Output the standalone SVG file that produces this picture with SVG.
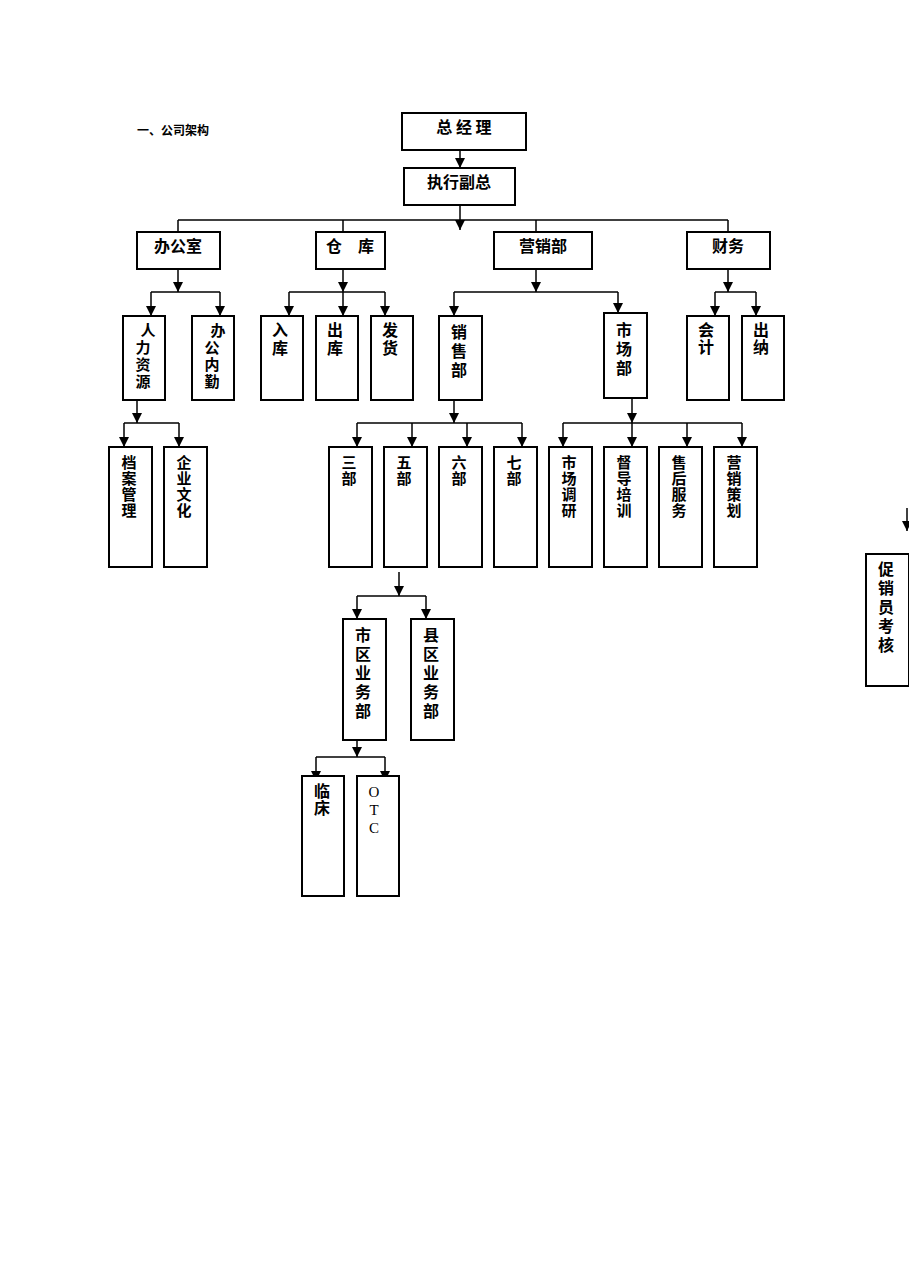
<svg xmlns="http://www.w3.org/2000/svg" width="909" height="1286" viewBox="0 0 909 1286">
<defs>
<marker id="a" markerWidth="10" markerHeight="10" refX="10" refY="5" orient="auto" markerUnits="userSpaceOnUse"><path d="M0,0 L10,5 L0,10 Z" fill="#000"/></marker>
</defs>
<style>
rect{fill:#fff;stroke:#000;stroke-width:2}
text{font-family:"Noto Sans CJK SC","Liberation Sans",sans-serif;font-size:16px;font-weight:bold;fill:#000}
.c line,.c path{stroke:#000;stroke-width:1.5;fill:none}
.v{text-anchor:middle}
.t{font-size:15px}
</style>
<rect width="909" height="1286" style="fill:#fff;stroke:none"/>
<text x="137" y="135" style="font-size:12px">一、公司架构</text>
<g id="connectors" class="c">
<line x1="460" y1="150" x2="460" y2="168" marker-end="url(#a)"/>
<line x1="460" y1="205" x2="460" y2="230" marker-end="url(#a)"/>
<line x1="178" y1="220" x2="728" y2="220"/>
<line x1="178" y1="220" x2="178" y2="245" marker-end="url(#a)"/>
<line x1="343" y1="220" x2="343" y2="258" marker-end="url(#a)"/>
<line x1="536" y1="220" x2="536" y2="258" marker-end="url(#a)"/>
<line x1="728" y1="220" x2="728" y2="245" marker-end="url(#a)"/>
<line x1="178" y1="269" x2="178" y2="292" marker-end="url(#a)"/>
<line x1="151" y1="292" x2="220" y2="292"/>
<line x1="151" y1="292" x2="151" y2="316" marker-end="url(#a)"/>
<line x1="220" y1="292" x2="220" y2="316" marker-end="url(#a)"/>
<line x1="343" y1="269" x2="343" y2="292" marker-end="url(#a)"/>
<line x1="289" y1="292" x2="385" y2="292"/>
<line x1="289" y1="292" x2="289" y2="316" marker-end="url(#a)"/>
<line x1="343" y1="292" x2="343" y2="316" marker-end="url(#a)"/>
<line x1="385" y1="292" x2="385" y2="316" marker-end="url(#a)"/>
<line x1="536" y1="269" x2="536" y2="292" marker-end="url(#a)"/>
<line x1="454" y1="292" x2="618" y2="292"/>
<line x1="454" y1="292" x2="454" y2="316" marker-end="url(#a)"/>
<line x1="618" y1="292" x2="618" y2="313" marker-end="url(#a)"/>
<line x1="728" y1="269" x2="728" y2="292" marker-end="url(#a)"/>
<line x1="715" y1="292" x2="756" y2="292"/>
<line x1="715" y1="292" x2="715" y2="316" marker-end="url(#a)"/>
<line x1="756" y1="292" x2="756" y2="316" marker-end="url(#a)"/>
<line x1="137" y1="400" x2="137" y2="423" marker-end="url(#a)"/>
<line x1="124" y1="423" x2="179" y2="423"/>
<line x1="124" y1="423" x2="124" y2="447" marker-end="url(#a)"/>
<line x1="179" y1="423" x2="179" y2="447" marker-end="url(#a)"/>
<line x1="454" y1="400" x2="454" y2="423" marker-end="url(#a)"/>
<line x1="357" y1="423" x2="522" y2="423"/>
<line x1="357" y1="423" x2="357" y2="447" marker-end="url(#a)"/>
<line x1="412" y1="423" x2="412" y2="447" marker-end="url(#a)"/>
<line x1="467" y1="423" x2="467" y2="447" marker-end="url(#a)"/>
<line x1="522" y1="423" x2="522" y2="447" marker-end="url(#a)"/>
<line x1="632" y1="398" x2="632" y2="423" marker-end="url(#a)"/>
<line x1="563" y1="423" x2="742" y2="423"/>
<line x1="563" y1="423" x2="563" y2="447" marker-end="url(#a)"/>
<line x1="632" y1="423" x2="632" y2="447" marker-end="url(#a)"/>
<line x1="687" y1="423" x2="687" y2="447" marker-end="url(#a)"/>
<line x1="742" y1="423" x2="742" y2="447" marker-end="url(#a)"/>
<line x1="907" y1="508" x2="907" y2="531" marker-end="url(#a)"/>
<line x1="399" y1="572" x2="399" y2="596" marker-end="url(#a)"/>
<line x1="357" y1="596" x2="426" y2="596"/>
<line x1="357" y1="596" x2="357" y2="619" marker-end="url(#a)"/>
<line x1="426" y1="596" x2="426" y2="619" marker-end="url(#a)"/>
<line x1="357" y1="735" x2="357" y2="757" marker-end="url(#a)"/>
<line x1="316" y1="757" x2="385" y2="757"/>
<line x1="316" y1="757" x2="316" y2="781" marker-end="url(#a)"/>
<line x1="385" y1="757" x2="385" y2="781" marker-end="url(#a)"/>
</g>
<g id="n-zjl"><rect x="402" y="113" width="124" height="37"/><text x="464" y="133" class="v">总 经 理</text></g>
<g id="n-zxfz"><rect x="404" y="168" width="111" height="37"/><text x="459" y="188" class="v">执行副总</text></g>
<g id="n-bgs"><rect x="137" y="232" width="83" height="37"/><text x="178" y="252" class="v">办公室</text></g>
<g id="n-ck"><rect x="316" y="232" width="69" height="37"/><text x="350" y="252" class="v">仓　库</text></g>
<g id="n-yxb"><rect x="494" y="232" width="98" height="37"/><text x="543" y="252" class="v">营销部</text></g>
<g id="n-cw"><rect x="687" y="232" width="83" height="37"/><text x="728" y="252" class="v">财务</text></g>
<g id="n-rlzy"><rect x="123" y="316" width="42" height="84"/><text class="v t" x="148" y="336">人<tspan x="143" dy="17">力</tspan><tspan x="143" dy="17">资</tspan><tspan x="143" dy="17">源</tspan></text></g>
<g id="n-bgnq"><rect x="192" y="316" width="42" height="84"/><text class="v t" x="218" y="336">办<tspan x="212" dy="17">公</tspan><tspan x="212" dy="17">内</tspan><tspan x="212" dy="17">勤</tspan></text></g>
<g id="n-rk"><rect x="261" y="316" width="42" height="84"/><text class="v" x="280" y="336">入<tspan x="280" dy="18">库</tspan></text></g>
<g id="n-chk"><rect x="316" y="316" width="42" height="84"/><text class="v" x="335" y="336">出<tspan x="335" dy="18">库</tspan></text></g>
<g id="n-fh"><rect x="371" y="316" width="42" height="84"/><text class="v" x="390" y="336">发<tspan x="390" dy="18">货</tspan></text></g>
<g id="n-xsb"><rect x="439" y="316" width="43" height="84"/><text class="v" x="459" y="338">销<tspan x="459" dy="19">售</tspan><tspan x="459" dy="19">部</tspan></text></g>
<g id="n-scb"><rect x="604" y="313" width="43" height="85"/><text class="v" x="624" y="336">市<tspan x="624" dy="19">场</tspan><tspan x="624" dy="19">部</tspan></text></g>
<g id="n-kj"><rect x="687" y="316" width="42" height="84"/><text class="v" x="706" y="336">会<tspan x="706" dy="17">计</tspan></text></g>
<g id="n-cn"><rect x="742" y="316" width="42" height="84"/><text class="v" x="761" y="336">出<tspan x="761" dy="17">纳</tspan></text></g>
<g id="n-dagl"><rect x="109" y="447" width="43" height="120"/><text class="v t" x="129" y="468">档<tspan x="129" dy="16">案</tspan><tspan x="129" dy="16">管</tspan><tspan x="129" dy="16">理</tspan></text></g>
<g id="n-qywh"><rect x="164" y="447" width="43" height="120"/><text class="v t" x="184" y="468">企<tspan x="184" dy="16">业</tspan><tspan x="184" dy="16">文</tspan><tspan x="184" dy="16">化</tspan></text></g>
<g id="n-3b"><rect x="329" y="447" width="43" height="120"/><text class="v t" x="349" y="468">三<tspan x="349" dy="16">部</tspan></text></g>
<g id="n-5b"><rect x="384" y="447" width="43" height="120"/><text class="v t" x="404" y="468">五<tspan x="404" dy="16">部</tspan></text></g>
<g id="n-6b"><rect x="439" y="447" width="43" height="120"/><text class="v t" x="459" y="468">六<tspan x="459" dy="16">部</tspan></text></g>
<g id="n-7b"><rect x="494" y="447" width="43" height="120"/><text class="v t" x="514" y="468">七<tspan x="514" dy="16">部</tspan></text></g>
<g id="n-scdy"><rect x="549" y="447" width="43" height="120"/><text class="v t" x="569" y="468">市<tspan x="569" dy="16">场</tspan><tspan x="569" dy="16">调</tspan><tspan x="569" dy="16">研</tspan></text></g>
<g id="n-ddpx"><rect x="604" y="447" width="43" height="120"/><text class="v t" x="624" y="468">督<tspan x="624" dy="16">导</tspan><tspan x="624" dy="16">培</tspan><tspan x="624" dy="16">训</tspan></text></g>
<g id="n-shfw"><rect x="659" y="447" width="43" height="120"/><text class="v t" x="679" y="468">售<tspan x="679" dy="16">后</tspan><tspan x="679" dy="16">服</tspan><tspan x="679" dy="16">务</tspan></text></g>
<g id="n-yxch"><rect x="714" y="447" width="43" height="120"/><text class="v t" x="734" y="468">营<tspan x="734" dy="16">销</tspan><tspan x="734" dy="16">策</tspan><tspan x="734" dy="16">划</tspan></text></g>
<g id="n-cxykh"><rect x="866" y="554" width="43" height="132"/><text class="v" x="886" y="575">促<tspan x="886" dy="19">销</tspan><tspan x="886" dy="19">员</tspan><tspan x="886" dy="19">考</tspan><tspan x="886" dy="19">核</tspan></text></g>
<g id="n-sqyw"><rect x="343" y="619" width="43" height="121"/><text class="v" x="363" y="641">市<tspan x="363" dy="19">区</tspan><tspan x="363" dy="19">业</tspan><tspan x="363" dy="19">务</tspan><tspan x="363" dy="19">部</tspan></text></g>
<g id="n-xqyw"><rect x="411" y="619" width="43" height="121"/><text class="v" x="431" y="641">县<tspan x="431" dy="19">区</tspan><tspan x="431" dy="19">业</tspan><tspan x="431" dy="19">务</tspan><tspan x="431" dy="19">部</tspan></text></g>
<g id="n-lc"><rect x="302" y="776" width="42" height="120"/><text class="v" x="322" y="797">临<tspan x="322" dy="17">床</tspan></text></g>
<g id="n-otc"><rect x="357" y="776" width="42" height="120"/><text class="v" x="374" y="797" style="font-family:'Liberation Serif',serif;font-weight:normal;font-size:15px">O<tspan x="374" dy="18">T</tspan><tspan x="374" dy="18">C</tspan></text></g>
</svg>
